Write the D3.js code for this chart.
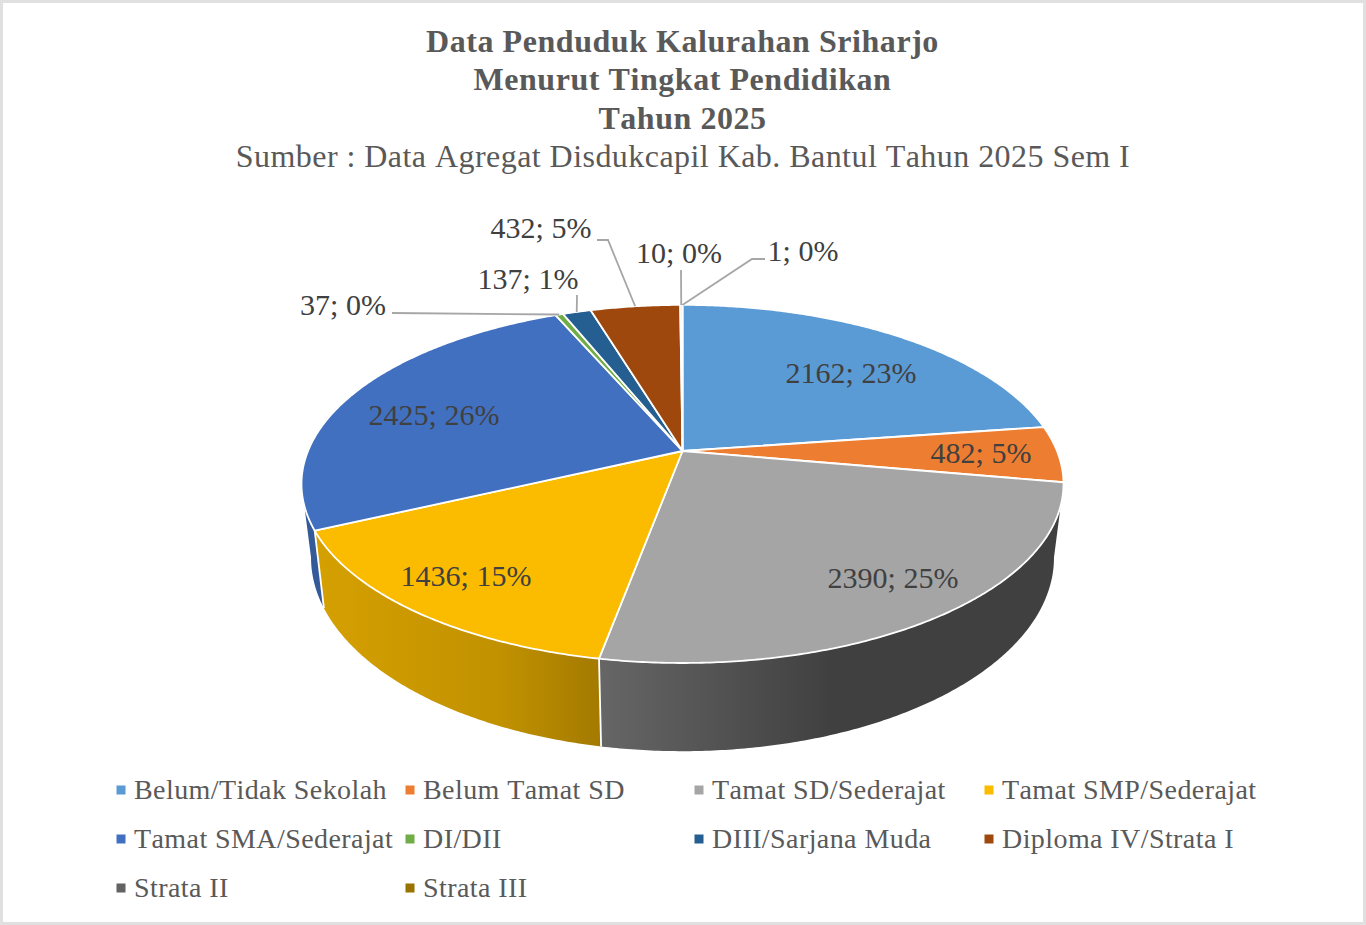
<!DOCTYPE html>
<html>
<head>
<meta charset="utf-8">
<script src="https://cdn.jsdelivr.net/npm/d3@7/dist/d3.min.js"></script>
<style>html,body{margin:0;padding:0;background:#fff}svg{display:block}text{font-family:"Liberation Serif","Times New Roman",serif;font-kerning:none}</style>
</head>
<body>
<svg id="c" width="1366" height="925"></svg>
<script>
const categories = ["Belum/Tidak Sekolah","Belum Tamat SD","Tamat SD/Sederajat","Tamat SMP/Sederajat","Tamat SMA/Sederajat","DI/DII","DIII/Sarjana Muda","Diploma IV/Strata I","Strata II","Strata III"];
const values = [2162,482,2390,1436,2425,37,137,432,10,1];
const percentLabels = ["23%","5%","25%","15%","26%","0%","1%","5%","0%","0%"];
const colors = ["#5B9BD5","#ED7D31","#A5A5A5","#FBBC00","#4270C0","#70AD47","#255E91","#9E480E","#636363","#997300"];
const titleLines = ["Data Penduduk Kalurahan Sriharjo","Menurut Tingkat Pendidikan","Tahun 2025"];
const subtitle = "Sumber : Data Agregat Disdukcapil Kab. Bantul Tahun 2025 Sem I";

// layout (text positions and leader elbows, separate from the data)
const labelLayout = [
  {x:851,y:372.5},{x:981,y:452.5},{x:893,y:577.5},{x:466,y:575.5},{x:434,y:414.5},
  {x:343,y:304.5,leader:[[392,313]]},
  {x:528,y:278.5,leader:[[577,295]]},
  {x:541,y:227.5,leader:[[597,240],[608,240]]},
  {x:679,y:252.5,leader:[[681,270]]},
  {x:803,y:250.5,leader:[[765,259],[752,259]]}
];
const legendX = [121,410,699,989], legendY = [790,839,888];

const svg = d3.select("#c");
const defs = svg.append("defs");
svg.append("rect").attr("x",1.5).attr("y",1.5).attr("width",1363).attr("height",922)
  .attr("fill","#fff").attr("stroke","#e0e0e0").attr("stroke-width",3);

// perspective projection of the pie discs
const top3d = {x0:682.5,y0:451,a:374.5,b:173,k:0.184};
const bot3d = {x0:682.5,y0:522,a:374.5*0.975,b:187,k:0.184};
const project = (disc,ang,r=1)=>{
  const u=r*Math.sin(ang), v=-r*Math.cos(ang), w=1-disc.k*v;
  return [disc.x0+disc.a*u/w, disc.y0+disc.b*v/w];
};
const arcPts = (disc,a0,a1)=>{
  const n=Math.max(2,Math.ceil(Math.abs(a1-a0)/(Math.PI/360)));
  return d3.range(n+1).map(i=>project(disc,a0+(a1-a0)*i/n));
};
const line = d3.line();
const pie = d3.pie().sort(null).value(d=>d).startAngle(0).endAngle(2*Math.PI);
const arcs = pie(values);

// visible front part of the wall
const visStart = Math.PI/2+Math.asin(top3d.k), visEnd = 3*Math.PI/2-Math.asin(top3d.k);
const wallShade = {2:[[0,.62],[.5,.39],[1,.39]],3:[[0,.85],[.65,.77],[1,.65]],4:[[0,.8],[1,.8]]};
const wallGroup = svg.append("g");
arcs.forEach((d,i)=>{
  const a0=Math.max(d.startAngle,visStart), a1=Math.min(d.endAngle,visEnd);
  if(a1<=a0) return;
  const t=arcPts(top3d,a0,a1), b=arcPts(bot3d,a0,a1);
  const xs=t.concat(b).map(p=>p[0]);
  const base=d3.rgb(colors[i]);
  const stops=wallShade[i]||[[0,.7],[1,.7]];
  const g=defs.append("linearGradient").attr("id","w"+i).attr("gradientUnits","userSpaceOnUse")
    .attr("x1",d3.min(xs)).attr("x2",d3.max(xs)).attr("y1",0).attr("y2",0);
  stops.forEach(s=>g.append("stop").attr("offset",s[0])
    .attr("stop-color",d3.rgb(base.r*s[1],base.g*s[1],base.b*s[1]).formatHex()));
  wallGroup.append("path").attr("d",line(t.concat(b.reverse()))+"Z").attr("fill",`url(#w${i})`);
});
// white edges between walls
arcs.forEach(d=>{
  if(d.endAngle>visStart && d.endAngle<visEnd){
    wallGroup.append("path").attr("d",line([project(top3d,d.endAngle),project(bot3d,d.endAngle)]))
      .attr("stroke","#fff").attr("stroke-width",1.8).attr("fill","none");
  }
});

// top faces
svg.append("g").selectAll("path").data(arcs).join("path")
  .attr("d",d=>line([[top3d.x0,top3d.y0]].concat(arcPts(top3d,d.startAngle,d.endAngle)))+"Z")
  .attr("fill",(d,i)=>colors[i]).attr("stroke","#fff").attr("stroke-width",1.8).attr("stroke-linejoin","round");

// leaders
const leaderG = svg.append("g");
arcs.forEach((d,i)=>{
  const l=labelLayout[i];
  if(!l.leader) return;
  const mid=(d.startAngle+d.endAngle)/2;
  leaderG.append("path").attr("d",line(l.leader.concat([project(top3d,mid)])))
    .attr("fill","none").attr("stroke","#a6a6a6").attr("stroke-width",1.8);
});

// data labels
svg.append("g").selectAll("text").data(values).join("text")
  .attr("x",(d,i)=>labelLayout[i].x).attr("y",(d,i)=>labelLayout[i].y)
  .attr("dy","0.35em").attr("text-anchor","middle")
  .attr("font-size",30).attr("fill","#404040")
  .text((d,i)=>`${d}; ${percentLabels[i]}`);

// titles
svg.append("g").selectAll("text").data(titleLines).join("text")
  .attr("x",682.5).attr("y",(d,i)=>40.7+i*38.5).attr("dy","0.35em").attr("text-anchor","middle")
  .attr("font-size",32).attr("font-weight","bold").attr("letter-spacing",0.55).attr("fill","#595959").text(d=>d);
svg.append("text").attr("x",683).attr("y",155.7).attr("dy","0.35em").attr("text-anchor","middle")
  .attr("font-size",32).attr("letter-spacing",0.45).attr("fill","#595959").text(subtitle);

// legend
const legend = svg.append("g").selectAll("g").data(categories).join("g")
  .attr("transform",(d,i)=>`translate(${legendX[i%4]},${legendY[Math.floor(i/4)]})`);
legend.append("rect").attr("x",-4.5).attr("y",-4.5).attr("width",9).attr("height",9).attr("fill",(d,i)=>colors[i]);
legend.append("text").attr("x",13).attr("y",-1).attr("dy","0.35em").attr("font-size",28).attr("letter-spacing",0.42).attr("fill","#595959").text(d=>d);
</script>
</body>
</html>
